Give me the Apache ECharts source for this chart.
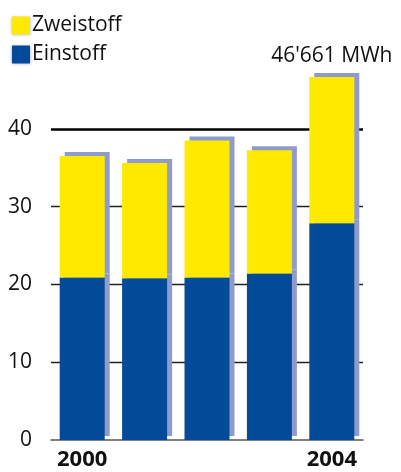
<!DOCTYPE html>
<html>
<head>
<meta charset="utf-8">
<style>
  html, body { margin: 0; padding: 0; background: #fff; }
  #chart { width: 401px; height: 472px; }
</style>
<script src="https://cdn.jsdelivr.net/npm/echarts@6/dist/echarts.min.js"></script>
</head>
<body>
<div id="chart"></div>
<script>
// Annual energy in GWh, split by type
const years = ['2000', '2001', '2002', '2003', '2004'];
const einstoff = [20.9, 20.8, 20.9, 21.4, 27.85];
const zweistoff = [15.6, 14.8, 17.6, 15.85, 18.811];
const yTicks = [0, 10, 20, 30, 40];
const gridValues = [10, 20, 30, 40];
const shownYears = ['2000', '2004'];

const FONT = '"Open Sans", Lato, sans-serif';
const BLUE = '#034a98';
const YELLOW = '#ffe900';
const SHADOW = '#8f9bcb';

// hard offset shadow behind each bar (kept per item so the legend stays clean)
const barShadow = {
  shadowColor: SHADOW,
  shadowBlur: 0,
  shadowOffsetX: 5,
  shadowOffsetY: -4
};
const withShadow = arr => arr.map(v => ({ value: v, itemStyle: barShadow }));

function fmtTotal(v) {
  const mwh = Math.round(v * 1000).toString();
  return mwh.replace(/\B(?=(\d{3})+(?!\d))/g, "'") + ' MWh';
}

const chart = echarts.init(document.getElementById('chart'), null, { renderer: 'canvas' });

chart.setOption({
  animation: false,
  backgroundColor: '#fff',
  textStyle: { fontFamily: FONT },
  legend: {
    orient: 'vertical',
    left: 7,
    top: 10,
    itemWidth: 18,
    itemHeight: 18,
    itemGap: 8,
    icon: 'rect',
    data: ['Zweistoff', 'Einstoff'],
    textStyle: { fontFamily: FONT, fontSize: 21, color: '#111', padding: [0, 0, 0, -3] },
    itemStyle: { shadowColor: 'rgba(110,120,220,0.7)', shadowBlur: 3, shadowOffsetX: 0, shadowOffsetY: 0 }
  },
  grid: { left: 51, right: 38, top: 51, bottom: 32 },
  xAxis: {
    type: 'category',
    data: years,
    axisLine: { show: true, lineStyle: { color: '#555', width: 1.5 } },
    axisTick: { show: false },
    axisLabel: {
      interval: 0,
      formatter: v => shownYears.includes(v) ? v : '',
      fontFamily: FONT,
      fontSize: 22,
      fontWeight: 'bold',
      color: '#111',
      margin: 9
    }
  },
  yAxis: {
    type: 'value',
    min: 0,
    max: 50,
    interval: 10,
    axisLine: { show: false },
    axisTick: { show: false },
    splitLine: { show: false },
    axisLabel: {
      formatter: v => yTicks.includes(v) ? String(v) : '',
      fontFamily: FONT,
      fontSize: 21,
      color: '#111',
      margin: 19
    }
  },
  series: [
    {
      name: 'Einstoff',
      type: 'bar',
      stack: 'total',
      barWidth: 45,
      data: withShadow(einstoff),
      itemStyle: { color: BLUE },
      markLine: {
        silent: true,
        symbol: 'none',
        z: 1,
        label: { show: false },
        data: gridValues.map(v => ({
          yAxis: v,
          lineStyle: { type: 'solid', color: v === 40 ? '#000' : '#222', width: v === 40 ? 2.5 : 1.3 }
        }))
      }
    },
    {
      name: 'Zweistoff',
      type: 'bar',
      stack: 'total',
      barWidth: 45,
      data: withShadow(zweistoff),
      itemStyle: { color: YELLOW },
      label: {
        show: true,
        position: 'top',
        distance: 10,
        fontFamily: FONT,
        fontSize: 21,
        color: '#111',
        formatter: p => p.dataIndex === years.length - 1
          ? fmtTotal(einstoff[p.dataIndex] + zweistoff[p.dataIndex])
          : ''
      }
    }
  ]
});
</script>
</body>
</html>
